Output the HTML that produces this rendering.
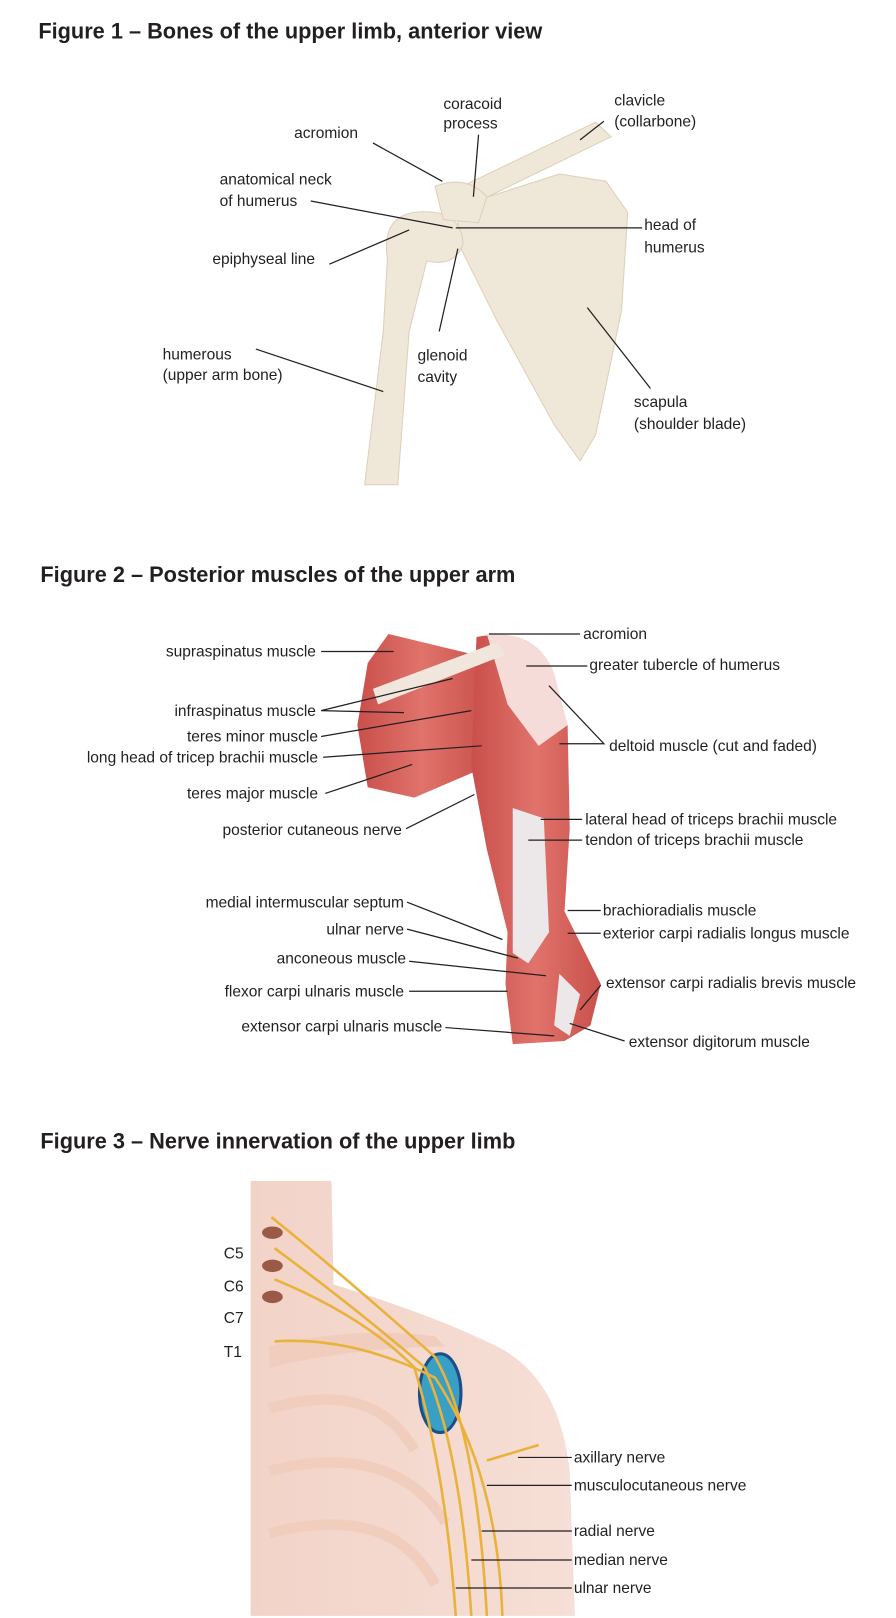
<!DOCTYPE html>
<html><head><meta charset="utf-8"><style>
html,body{margin:0;padding:0;background:#fff;}
svg{display:block}
text{font-family:"Liberation Sans",sans-serif;font-size:15px;fill:#231f20}
.t{font-size:21px;font-weight:bold}
line,polyline{stroke:#231f20;stroke-width:1.2;fill:none}
</style></head><body>
<svg width="896" height="1618" viewBox="0 0 865 1562" xmlns="http://www.w3.org/2000/svg">
<defs>
<linearGradient id="mus" x1="0" x2="1"><stop offset="0" stop-color="#c94f4b"/><stop offset="0.5" stop-color="#e0736b"/><stop offset="1" stop-color="#c9504b"/></linearGradient>
<linearGradient id="skin" x1="0" x2="1"><stop offset="0" stop-color="#f2d3c8"/><stop offset="1" stop-color="#f6dfd6"/></linearGradient>
</defs>
<!-- Figure 1 -->
<text class="t" x="37" y="37">Figure 1 – Bones of the upper limb, anterior view</text>
<g fill="#efe7d8" stroke="#ddd0ba" stroke-width="1">
<path d="M440 200 L540 168 L585 175 L606 205 L600 300 L575 420 L560 445 L535 410 L480 310 L445 240 Z"/>
<path d="M425 190 L575 118 L590 132 L440 205 Z"/>
<path d="M400 205 Q445 200 447 235 Q440 258 412 252 L395 320 L384 468 L352 468 L370 320 L374 250 Q368 210 400 205 Z"/>
<path d="M420 180 Q450 168 470 190 L462 215 L428 212 Z"/>
</g>
<text x="284" y="133">acromion</text><line x1="360" y1="138" x2="427" y2="175"/>
<text x="428" y="105">coracoid</text><text x="428" y="124">process</text><line x1="462" y1="130" x2="457" y2="190"/>
<text x="593" y="102">clavicle</text><text x="593" y="122">(collarbone)</text><line x1="583" y1="117" x2="560" y2="135"/>
<text x="212" y="178">anatomical neck</text><text x="212" y="199">of humerus</text><line x1="300" y1="194" x2="437" y2="220"/>
<text x="622" y="222">head of</text><text x="622" y="244">humerus</text><line x1="620" y1="220" x2="440" y2="220"/>
<text x="205" y="255">epiphyseal line</text><line x1="318" y1="255" x2="395" y2="222"/>
<text x="157" y="347">humerous</text><text x="157" y="367">(upper arm bone)</text><line x1="247" y1="337" x2="370" y2="378"/>
<text x="403" y="348">glenoid</text><text x="403" y="369">cavity</text><line x1="424" y1="320" x2="442" y2="240"/>
<text x="612" y="393">scapula</text><text x="612" y="414">(shoulder blade)</text><line x1="628" y1="375" x2="567" y2="297"/>

<!-- Figure 2 -->
<text class="t" x="39" y="562">Figure 2 – Posterior muscles of the upper arm</text>
<path d="M375 612 L470 635 L470 740 L400 770 L355 760 L345 700 L355 640 Z" fill="url(#mus)"/>
<path d="M460 615 Q510 605 530 640 L548 700 L550 800 L545 880 L580 950 L570 990 L545 1005 L495 1008 L488 950 L490 900 L470 820 L455 740 Z" fill="url(#mus)"/>
<path d="M470 612 Q520 610 535 650 L548 700 L520 720 L490 680 Z" fill="#f6dcd8"/>
<path d="M360 665 L480 620 L488 632 L365 680 Z" fill="#f1e6dc"/>
<path d="M495 780 L525 790 L530 900 L510 930 L495 920 Z" fill="#ece8ea"/>
<path d="M540 940 L560 960 L550 1000 L535 990 Z" fill="#ece8ea"/>
<text x="305" y="634" text-anchor="end">supraspinatus muscle</text><line x1="310" y1="629" x2="380" y2="629"/>
<text x="563" y="617">acromion</text><line x1="472" y1="612" x2="560" y2="612"/>
<text x="569" y="647">greater tubercle of humerus</text><line x1="508" y1="643" x2="567" y2="643"/>
<text x="305" y="691" text-anchor="end">infraspinatus muscle</text><polyline points="437,655 310,686 390,688"/>
<text x="307" y="716" text-anchor="end">teres minor muscle</text><line x1="310" y1="711" x2="455" y2="686"/>
<text x="307" y="736" text-anchor="end">long head of tricep brachii muscle</text><line x1="312" y1="731" x2="465" y2="720"/>
<text x="588" y="725">deltoid muscle (cut and faded)</text><polyline points="530,662 583,718 540,718"/>
<text x="307" y="771" text-anchor="end">teres major muscle</text><line x1="314" y1="766" x2="398" y2="738"/>
<text x="388" y="806" text-anchor="end">posterior cutaneous nerve</text><line x1="392" y1="800" x2="458" y2="767"/>
<text x="565" y="796">lateral head of triceps brachii muscle</text><line x1="522" y1="791" x2="562" y2="791"/>
<text x="565" y="816">tendon of triceps brachii muscle</text><line x1="510" y1="811" x2="562" y2="811"/>
<text x="390" y="876" text-anchor="end">medial intermuscular septum</text><line x1="393" y1="871" x2="485" y2="907"/>
<text x="390" y="902" text-anchor="end">ulnar nerve</text><line x1="393" y1="897" x2="500" y2="925"/>
<text x="392" y="930" text-anchor="end">anconeous muscle</text><line x1="395" y1="928" x2="527" y2="942"/>
<text x="582" y="884">brachioradialis muscle</text><line x1="548" y1="879" x2="580" y2="879"/>
<text x="582" y="906">exterior carpi radialis longus muscle</text><line x1="548" y1="901" x2="580" y2="901"/>
<text x="585" y="954">extensor carpi radialis brevis muscle</text><line x1="580" y1="951" x2="560" y2="975"/>
<text x="390" y="962" text-anchor="end">flexor carpi ulnaris muscle</text><line x1="395" y1="957" x2="490" y2="957"/>
<text x="427" y="996" text-anchor="end">extensor carpi ulnaris muscle</text><line x1="430" y1="992" x2="535" y2="1000"/>
<text x="607" y="1011">extensor digitorum muscle</text><line x1="603" y1="1005" x2="550" y2="988"/>

<!-- Figure 3 -->
<text class="t" x="39" y="1109">Figure 3 – Nerve innervation of the upper limb</text>
<path d="M242 1140 L320 1140 L322 1240 Q420 1270 480 1300 Q540 1330 550 1420 L555 1560 L242 1560 Z" fill="url(#skin)"/>
<path d="M260 1300 Q340 1280 420 1290 L430 1300 Q350 1300 260 1320 Z" fill="#f0cdbd"/>
<g fill="none" stroke="#f0cdbd" stroke-width="10">
<path d="M260 1360 Q360 1330 400 1400"/><path d="M260 1420 Q380 1390 430 1470"/><path d="M260 1480 Q380 1450 420 1530"/></g>
<ellipse cx="425" cy="1345" rx="20" ry="38" fill="#3a9fc4" stroke="#1c4f8a" stroke-width="3"/>
<g fill="#9a5a45"><ellipse cx="263" cy="1190" rx="10" ry="6"/><ellipse cx="263" cy="1222" rx="10" ry="6"/><ellipse cx="263" cy="1252" rx="10" ry="6"/></g>
<g fill="none" stroke="#e9b23a" stroke-width="2.5">
<path d="M262 1175 Q330 1230 420 1310 Q460 1380 470 1560"/>
<path d="M265 1205 Q340 1260 410 1320 Q445 1400 455 1560"/>
<path d="M265 1235 Q350 1270 400 1320 Q430 1420 440 1560"/>
<path d="M265 1295 Q340 1290 420 1330 Q480 1420 485 1560"/>
<path d="M470 1410 L520 1395"/></g>
<text x="216" y="1215">C5</text><text x="216" y="1247">C6</text><text x="216" y="1277">C7</text><text x="216" y="1310">T1</text>
<text x="554" y="1412">axillary nerve</text><line x1="500" y1="1407" x2="552" y2="1407"/>
<text x="554" y="1439">musculocutaneous nerve</text><line x1="470" y1="1434" x2="552" y2="1434"/>
<text x="554" y="1483">radial nerve</text><line x1="465" y1="1478" x2="552" y2="1478"/>
<text x="554" y="1511">median nerve</text><line x1="455" y1="1506" x2="552" y2="1506"/>
<text x="554" y="1538">ulnar nerve</text><line x1="440" y1="1533" x2="552" y2="1533"/>
</svg>
</body></html>
